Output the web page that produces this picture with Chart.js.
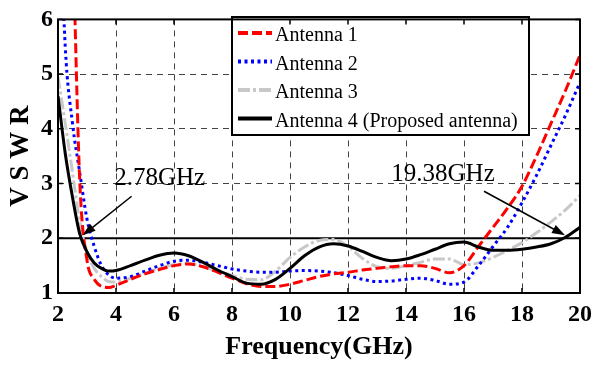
<!DOCTYPE html>
<html>
<head>
<meta charset="utf-8">
<script src="https://cdn.jsdelivr.net/npm/chart.js@4/dist/chart.umd.min.js"></script>
<style>
  html, body { margin: 0; padding: 0; background: #fff; }
  canvas { display: block; }
</style>
</head>
<body>
<canvas id="chart" width="601" height="365"></canvas>
<script>
// frequency points (GHz)
const freq = [2, 2.25, 2.5, 2.75, 3, 3.25, 3.5, 3.75, 4,
  4.5, 5, 5.5, 6, 6.5, 7, 7.5, 8, 8.5, 9, 9.5, 10, 10.5, 11, 11.5, 12,
  12.5, 13, 13.5, 14, 14.5, 15, 15.5, 16, 16.5, 17, 17.5, 18, 18.5, 19, 19.5, 20];

const antenna1 = [14, 11, 7.6, 3.05, 1.6, 1.25, 1.12, 1.1, 1.14,
  1.25, 1.35, 1.43, 1.5, 1.53, 1.48, 1.38, 1.27, 1.17, 1.12, 1.12, 1.16, 1.23, 1.3, 1.35, 1.38,
  1.42, 1.45, 1.48, 1.5, 1.5, 1.45, 1.37, 1.5, 1.85, 2.2, 2.55, 2.95, 3.5, 4.1, 4.7, 5.35];

const antenna2 = [9, 5.5, 4.1, 3.2, 2.35, 1.85, 1.5, 1.33, 1.27,
  1.3, 1.4, 1.5, 1.58, 1.6, 1.56, 1.5, 1.44, 1.4, 1.38, 1.38, 1.4, 1.41, 1.4, 1.37, 1.32,
  1.25, 1.21, 1.22, 1.25, 1.27, 1.23, 1.16, 1.2, 1.5, 1.85, 2.2, 2.65, 3.15, 3.7, 4.25, 4.85];

const antenna3 = [4.95, 4.1, 3.2, 2.3, 1.75, 1.45, 1.3, 1.21, 1.2,
  1.27, 1.36, 1.45, 1.52, 1.54, 1.48, 1.4, 1.32, 1.25, 1.24, 1.4, 1.65, 1.84, 1.96, 1.98, 1.85,
  1.63, 1.48, 1.45, 1.5, 1.56, 1.62, 1.62, 1.52, 1.55, 1.65, 1.78, 1.92, 2.1, 2.3, 2.52, 2.78];

const antenna4 = [4.6, 3.55, 2.75, 2.08, 1.75, 1.55, 1.45, 1.4, 1.41,
  1.5, 1.6, 1.69, 1.73, 1.68, 1.56, 1.42, 1.3, 1.18, 1.16, 1.25, 1.45, 1.68, 1.84, 1.9, 1.86,
  1.76, 1.65, 1.59, 1.62, 1.7, 1.8, 1.9, 1.93, 1.84, 1.78, 1.78, 1.8, 1.84, 1.9, 2.02, 2.2];

const labels = ['Antenna 1', 'Antenna 2', 'Antenna 3', 'Antenna 4 (Proposed antenna)'];

// VSWR = 2 reference line
const refFreq = [2, 20];
const refVswr = [2, 2];

// marked band edges
const markFreq = [2.78, 19.38];
const markLabels = ['2.78GHz', '19.38GHz'];

const xTicks = [2, 4, 6, 8, 10, 12, 14, 16, 18, 20];
const yTicks = [1, 2, 3, 4, 5, 6];

const serif = "'Liberation Serif', 'Times New Roman', serif";

function pts(xs, ys) {
  return xs.map((f, i) => ({ x: f, y: ys[i] }));
}

const datasets = [
  { label: labels[0], data: pts(freq, antenna1), borderColor: '#ff0000', borderWidth: 3, borderDash: [10, 4], order: 1 },
  { label: labels[1], data: pts(freq, antenna2), borderColor: '#0000ff', borderWidth: 3, borderDash: [3, 3.5], order: 2 },
  { label: labels[2], data: pts(freq, antenna3), borderColor: '#c8c8c8', borderWidth: 3, borderDash: [12, 3, 3, 3], order: 3 },
  { label: labels[3], data: pts(freq, antenna4), borderColor: '#000000', borderWidth: 3, borderDash: [], order: 0 },
  { label: 'VSWR = 2', data: pts(refFreq, refVswr), borderColor: '#000000', borderWidth: 2, borderDash: [], order: 4 }
];

// legend box, frame, inward ticks and the arrows
const decorations = {
  id: 'decorations',
  afterDatasetsDraw(chart) {
    const { ctx, chartArea: a, scales: { x, y } } = chart;
    ctx.save();

    // legend
    const bx = 232, by = 17, bw = 297, bh = 118;
    ctx.fillStyle = '#fff';
    ctx.fillRect(bx, by, bw, bh);
    ctx.lineWidth = 2;
    ctx.strokeStyle = '#000';
    ctx.setLineDash([]);
    ctx.strokeRect(bx, by, bw, bh);
    ctx.font = '20px ' + serif;
    ctx.textBaseline = 'middle';
    ctx.textAlign = 'left';
    labels.forEach((lab, i) => {
      const ds = chart.data.datasets[i];
      const ly = 33 + i * 28.5;
      ctx.beginPath();
      ctx.strokeStyle = ds.borderColor;
      ctx.lineWidth = 4;
      ctx.lineCap = 'butt';
      ctx.setLineDash(ds.borderDash);
      ctx.moveTo(238, ly);
      ctx.lineTo(272, ly);
      ctx.stroke();
      ctx.setLineDash([]);
      ctx.fillStyle = '#000';
      ctx.fillText(lab, 275, ly + 3);
    });

    // frame
    ctx.strokeStyle = '#000';
    ctx.lineWidth = 2;
    ctx.strokeRect(a.left, a.top, a.right - a.left, a.bottom - a.top);
    ctx.lineWidth = 1.5;
    ctx.beginPath();
    xTicks.forEach(v => {
      const px = x.getPixelForValue(v);
      ctx.moveTo(px, a.bottom); ctx.lineTo(px, a.bottom - 5);
      ctx.moveTo(px, a.top); ctx.lineTo(px, a.top + 5);
    });
    yTicks.forEach(v => {
      const py = y.getPixelForValue(v);
      ctx.moveTo(a.left, py); ctx.lineTo(a.left + 5, py);
      ctx.moveTo(a.right, py); ctx.lineTo(a.right - 5, py);
    });
    ctx.stroke();

    // arrows pointing at the band edges
    const offsets = [
      { tail: [49, -39], text: [77, -57] },
      { tail: [-81, -44], text: [-122, -61] }
    ];
    ctx.font = '25px ' + serif;
    ctx.textAlign = 'center';
    markFreq.forEach((f, i) => {
      const tx = x.getPixelForValue(f) + (i === 0 ? 2 : 3);
      const ty = y.getPixelForValue(2) - 3;
      const o = offsets[i];
      const sx = tx + o.tail[0], sy = ty + o.tail[1];
      const ang = Math.atan2(ty - sy, tx - sx);
      ctx.strokeStyle = '#000';
      ctx.lineWidth = 1.5;
      ctx.beginPath();
      ctx.moveTo(sx, sy);
      ctx.lineTo(tx - 10 * Math.cos(ang), ty - 10 * Math.sin(ang));
      ctx.stroke();
      ctx.fillStyle = '#000';
      ctx.beginPath();
      ctx.moveTo(tx, ty);
      ctx.lineTo(tx - 13 * Math.cos(ang) + 4.5 * Math.sin(ang), ty - 13 * Math.sin(ang) - 4.5 * Math.cos(ang));
      ctx.lineTo(tx - 13 * Math.cos(ang) - 4.5 * Math.sin(ang), ty - 13 * Math.sin(ang) + 4.5 * Math.cos(ang));
      ctx.closePath();
      ctx.fill();
      ctx.fillText(markLabels[i], tx + o.text[0], ty + o.text[1]);
    });

    ctx.restore();
  }
};

new Chart(document.getElementById('chart'), {
  type: 'line',
  data: { datasets: datasets },
  options: {
    responsive: false,
    animation: false,
    devicePixelRatio: 1,
    layout: { padding: { left: 0, right: 21, top: 14, bottom: 0 } },
    elements: {
      point: { radius: 0 },
      line: { cubicInterpolationMode: 'monotone', fill: false, borderCapStyle: 'butt' }
    },
    plugins: {
      legend: { display: false },
      tooltip: { enabled: false }
    },
    scales: {
      x: {
        type: 'linear',
        min: 2,
        max: 20,
        afterBuildTicks: s => { s.ticks = xTicks.map(v => ({ value: v })); },
        afterFit: s => { s.height = 72; },
        ticks: { color: '#000', padding: 7, font: { family: serif, size: 24, weight: 'bold' } },
        grid: { color: '#444', lineWidth: 1, drawTicks: false },
        border: { display: false, dash: [6, 5] },
        title: {
          display: true,
          text: 'Frequency(GHz)',
          color: '#000',
          font: { family: serif, size: 26, weight: 'bold' },
          padding: { top: 0, bottom: 2 }
        }
      },
      y: {
        min: 1,
        max: 6,
        afterBuildTicks: s => { s.ticks = yTicks.map(v => ({ value: v })); },
        afterFit: s => { s.width = 58; },
        ticks: { color: '#000', padding: 5, font: { family: serif, size: 24, weight: 'bold' } },
        grid: { color: '#444', lineWidth: 1, drawTicks: false },
        border: { display: false, dash: [6, 5] },
        title: {
          display: true,
          text: 'V S W R',
          color: '#000',
          font: { family: serif, size: 27, weight: 'bold' },
          padding: { top: 5, bottom: 0 }
        }
      }
    }
  },
  plugins: [decorations]
});
</script>
</body>
</html>
